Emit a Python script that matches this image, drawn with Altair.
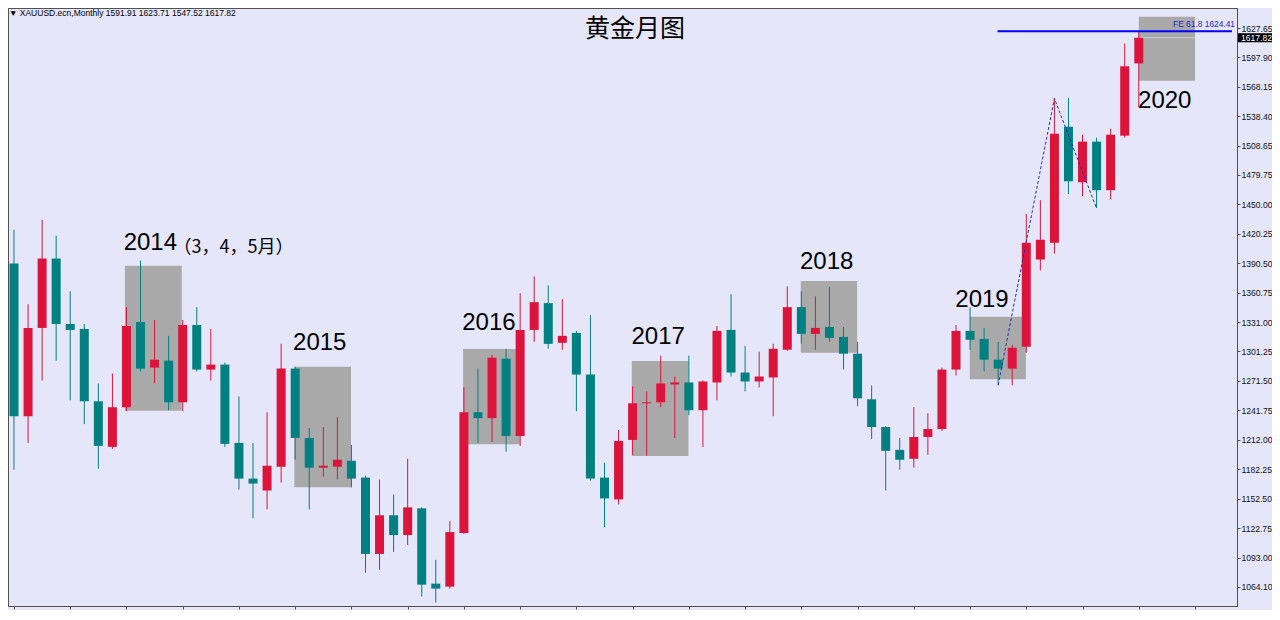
import altair as alt
import pandas as pd
import numpy as np

# ---------------- data ----------------
# monthly candles, index 0 = Jun 2013 ... index 80 = Feb 2020
opens = [1390, 1236, 1325, 1395, 1329, 1324, 1251, 1205, 1245, 1331,
         1285, 1292, 1250, 1328, 1283, 1288, 1209, 1173, 1161, 1185,
         1284, 1214, 1184, 1185, 1191, 1174, 1097, 1136, 1116, 1143,
         1067, 1064, 1118, 1240, 1234, 1294, 1216, 1323, 1350, 1310,
         1320, 1278, 1174, 1152, 1212, 1249, 1250, 1268, 1270, 1242,
         1270, 1323, 1280, 1271, 1275, 1303, 1346, 1319, 1326, 1316,
         1299, 1253, 1225, 1202, 1193, 1215, 1223, 1283, 1322, 1314,
         1293, 1284, 1306, 1394, 1411, 1528, 1472, 1513, 1464, 1519,
         1591.91]
highs = [1424, 1349, 1434, 1418, 1362, 1329, 1269, 1279, 1346, 1393,
         1333, 1317, 1333, 1346, 1324, 1290, 1256, 1209, 1240, 1309,
         1286, 1224, 1225, 1235, 1207, 1176, 1172, 1157, 1193, 1144,
         1091, 1130, 1265, 1284, 1298, 1304, 1360, 1377, 1368, 1354,
         1322, 1338, 1189, 1222, 1266, 1261, 1297, 1276, 1297, 1272,
         1327, 1359, 1307, 1301, 1309, 1367, 1362, 1357, 1366, 1326,
         1311, 1267, 1226, 1214, 1245, 1239, 1285, 1328, 1346, 1325,
         1311, 1308, 1440, 1454, 1557, 1557, 1520, 1517, 1526, 1612,
         1623.71]
lows = [1182, 1209, 1272, 1292, 1252, 1228, 1183, 1203, 1241, 1281,
        1269, 1242, 1241, 1281, 1272, 1205, 1162, 1133, 1142, 1169,
        1192, 1142, 1175, 1172, 1164, 1078, 1081, 1099, 1106, 1054,
        1048, 1062, 1117, 1209, 1210, 1200, 1206, 1311, 1304, 1303,
        1241, 1171, 1124, 1147, 1197, 1196, 1245, 1214, 1237, 1205,
        1252, 1276, 1261, 1265, 1236, 1302, 1309, 1303, 1311, 1283,
        1246, 1213, 1161, 1182, 1184, 1197, 1221, 1277, 1303, 1281,
        1267, 1267, 1300, 1383, 1400, 1460, 1458, 1446, 1455, 1517,
        1547.52]
closes = [1236, 1325, 1395, 1329, 1323, 1251, 1206, 1245, 1327, 1284,
          1293, 1250, 1328, 1283, 1288, 1208, 1173, 1168, 1186, 1284,
          1214, 1184, 1186, 1192, 1173, 1097, 1136, 1116, 1144, 1066,
          1062, 1119, 1240, 1234, 1295, 1216, 1323, 1351, 1309, 1317,
          1278, 1173, 1153, 1211, 1249, 1250, 1269, 1270, 1242, 1271,
          1322, 1280, 1271, 1276, 1304, 1346, 1319, 1325, 1315, 1299,
          1254, 1225, 1201, 1192, 1215, 1223, 1283, 1322, 1313, 1293,
          1284, 1305, 1411, 1414, 1521, 1473, 1513, 1464, 1520, 1589,
          1617.82]

# highlighted periods (grey boxes): index range and price range
box_i1 = [7.89, 19.94, 31.94, 43.94, 55.96, 67.98, 80.0]
box_i2 = [11.93, 23.97, 35.97, 47.97, 59.97, 71.97, 84.0]
box_top = [1387.8, 1285.9, 1303.7, 1291.6, 1372.4, 1336.4, 1639.1]
box_bot = [1241.5, 1164.2, 1207.6, 1195.8, 1300.0, 1273.2, 1574.5]

# year labels
year_text = ["2014", "2015", "2016", "2017", "2018", "2019", "2020"]
year_i = [7.8, 19.85, 31.88, 43.92, 55.9, 66.95, 79.95]
year_p = [1411.2, 1310.0, 1330.5, 1315.4, 1391.5, 1353.2, 1553.7]
note_text = ["（3，4，5月）"]
note_i = [11.35]
note_p = [1405.4]

# Fibonacci expansion swing points and level
fib_i = [70, 74, 77]
fib_p = [1267.4, 1556.5, 1445.7]
fe_level = 1624.41
fe_start_i = 69.95
fe_label = "FE 61.8  1624.41"

last_price = 1617.82
header = "▼ XAUUSD.ecn,Monthly  1591.91 1623.71 1547.52 1617.82"
title = "黄金月图"

y_ticks = [1627.65, 1597.90, 1568.15, 1538.40, 1508.65, 1479.75, 1450.00,
           1420.25, 1390.50, 1360.75, 1331.00, 1301.25, 1271.50, 1241.75,
           1212.00, 1182.25, 1152.50, 1122.75, 1093.00, 1064.10]
x_ticks = list(range(0, 88, 4))

# ---------------- layout constants ----------------
W, H = 1229, 598
D0, D1 = -0.0705, 86.631
YLO, YHI = 1044.45, 1647.83
BG = "#E6E6FA"
RED = "#DC143C"
TEAL = "#008080"
FRAME = "#505050"

df = pd.DataFrame({"i": list(range(len(opens))), "o": opens, "h": highs,
                   "l": lows, "c": closes})
df["lo"] = df[["o", "c"]].min(axis=1)
df["hi"] = np.maximum(df[["o", "c"]].max(axis=1), df["lo"] + 1.0)
df["dir"] = np.where(df["c"] >= df["o"], "up", "down")

XS = alt.Scale(domain=[D0, D1], nice=False, zero=False)
YS = alt.Scale(domain=[YLO, YHI], nice=False, zero=False)
XAX = alt.Axis(values=x_ticks, labels=False, ticks=True, tickSize=3,
               tickColor=FRAME, domain=True, domainColor=FRAME, grid=False,
               title=None)
YAX = alt.Axis(orient="right", values=y_ticks, format=".2f", grid=False,
               title=None, tickSize=3, tickColor=FRAME, domainColor=FRAME,
               labelFont="Liberation Sans", labelFontSize=8.6,
               labelColor="#111111", labelPadding=1, labelFlush=False,
               labelOverlap=False)


def X(f):
    return alt.X(f, type="quantitative", scale=XS, axis=XAX)


def Y(f):
    return alt.Y(f, type="quantitative", scale=YS, axis=YAX)


color = alt.Color("dir:N", scale=alt.Scale(domain=["up", "down"],
                                           range=[RED, TEAL]), legend=None)

boxes = alt.Chart(pd.DataFrame({"a": box_i1, "b": box_i2, "t": box_top,
                                "u": box_bot})).mark_rect(
    color="#A9A9A9").encode(x=X("a"), x2="b", y=Y("t"), y2="u")

# current-price line, visible only where it crosses the last grey box
bid = alt.Chart(pd.DataFrame({"a": [box_i1[-1]], "b": [box_i2[-1]],
                              "p": [last_price]})).mark_rule(
    color="#CFCFCF", strokeWidth=1).encode(x=X("a"), x2="b", y=Y("p"))

wicks = alt.Chart(df).mark_rule(strokeWidth=1).encode(
    x=X("i"), y=Y("l"), y2="h", color=color)

bodies = alt.Chart(df).mark_bar(size=9).encode(
    x=X("i"), y=Y("lo"), y2="hi", color=color)

fib_line = alt.Chart(pd.DataFrame({"i": fib_i, "p": fib_p})).mark_line(
    color="#2B2BB5", strokeWidth=1, strokeDash=[3, 2]).encode(
    x=X("i"), y=Y("p"))

fe_rule = alt.Chart(pd.DataFrame({"a": [fe_start_i], "b": [D1],
                                  "p": [fe_level]})).mark_rule(
    color="#0000FF", strokeWidth=2).encode(x=X("a"), x2="b", y=Y("p"))

fe_text = alt.Chart(pd.DataFrame({"p": [fe_level], "t": [fe_label]})).mark_text(
    align="right", baseline="bottom", dy=-2, font="Liberation Sans",
    fontSize=8.4, color="#2323D8").encode(
    x=alt.value(W - 2), y=Y("p"), text="t:N")

years = alt.Chart(pd.DataFrame({"i": year_i, "p": year_p,
                                "t": year_text})).mark_text(
    align="left", baseline="middle", font="Liberation Sans", fontSize=24,
    color="#000000").encode(x=X("i"), y=Y("p"), text="t:N")

note = alt.Chart(pd.DataFrame({"i": note_i, "p": note_p,
                               "t": note_text})).mark_text(
    align="left", baseline="middle", font="Noto Sans CJK SC", fontSize=18,
    color="#000000").encode(x=X("i"), y=Y("p"), text="t:N")

title_t = alt.Chart(pd.DataFrame({"t": [title]})).mark_text(
    align="center", baseline="middle", font="Noto Sans CJK SC", fontSize=25,
    color="#000000").encode(x=alt.value(627), y=alt.value(21), text="t:N")

header_t = alt.Chart(pd.DataFrame({"t": [header]})).mark_text(
    align="left", baseline="alphabetic", font="Liberation Sans", fontSize=8.5,
    color="#000000").encode(x=alt.value(1), y=alt.value(8), text="t:N")

pbox = alt.Chart(pd.DataFrame({"a": [last_price + 4.5],
                               "b": [last_price - 4.5]})).mark_rect(
    color="#000000", clip=False).encode(
    x=alt.value(W + 1), x2=alt.value(W + 40), y=Y("a"), y2="b")

ptext = alt.Chart(pd.DataFrame({"p": [last_price],
                                "t": [f"{last_price:.2f}"]})).mark_text(
    align="left", baseline="middle", font="Liberation Sans", fontSize=8.6,
    color="#FFFFFF", clip=False).encode(
    x=alt.value(W + 4), y=Y("p"), text="t:N")

chart = alt.layer(
    boxes, bid, wicks, bodies, fib_line, fe_rule, fe_text, years, note,
    title_t, header_t, pbox, ptext
).properties(
    width=W, height=H,
    padding={"left": 0, "top": 0, "right": 35, "bottom": 4},
    autosize=alt.AutoSizeParams(type="none"),
    background=BG,
).configure_view(
    fill=BG, stroke=FRAME, strokeWidth=1
)

chart.save("out.html", embed_options={"renderer": "svg", "actions": False})
